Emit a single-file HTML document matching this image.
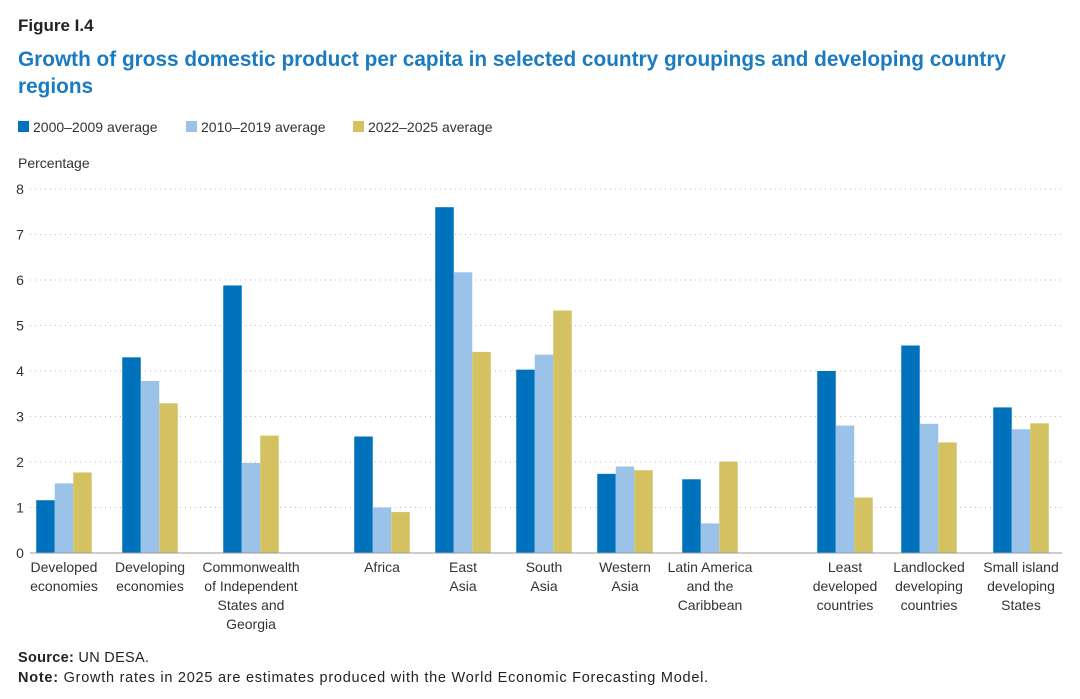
<!DOCTYPE html>
<html><head><meta charset="utf-8"><style>
body{margin:0;background:#fff;font-family:"Liberation Sans",sans-serif;}
#wrap{position:relative;width:1080px;height:699px;overflow:hidden;}
.t{position:absolute;white-space:nowrap;}
</style></head><body>
<div id="wrap">
<div class="t" style="left:18px;top:16px;font-size:17px;font-weight:bold;color:#222;">Figure I.4</div>
<div class="t" style="left:18px;top:46px;font-size:20.8px;font-weight:bold;color:#1a7bc1;line-height:27px;white-space:normal;width:1025px;">Growth of gross domestic product per capita in selected country groupings and developing country regions</div>
<svg id="chart" width="1080" height="699" style="position:absolute;left:0;top:0;"></svg>
<div class="t" style="left:18px;top:650px;font-size:14.5px;letter-spacing:0.3px;color:#222;"><b>Source:</b> UN DESA.</div>
<div class="t" style="left:18px;top:670px;font-size:14.5px;letter-spacing:0.75px;color:#222;"><b>Note:</b> Growth rates in 2025 are estimates produced with the World Economic Forecasting Model.</div>
</div>
<script>
const categories=["Developed\neconomies","Developing\neconomies","Commonwealth\nof Independent\nStates and\nGeorgia","Africa","East\nAsia","South\nAsia","Western\nAsia","Latin America\nand the\nCaribbean","Least\ndeveloped\ncountries","Landlocked\ndeveloping\ncountries","Small island\ndeveloping\nStates"];
const s2000=[1.16,4.3,5.88,2.56,7.6,4.03,1.74,1.62,4.0,4.56,3.2];
const s2010=[1.53,3.78,1.98,1.0,6.17,4.36,1.9,0.65,2.8,2.84,2.72];
const s2022=[1.77,3.29,2.58,0.9,4.42,5.33,1.82,2.01,1.22,2.43,2.85];
const seriesNames=["2000–2009 average","2010–2019 average","2022–2025 average"];
const yTicks=[0,1,2,3,4,5,6,7,8];
const colors=["#0072bc","#9bc2e8","#d4c262"];
const groupCenters=[64,150,251,382,463,544,625,710,845,929,1021];
const NS="http://www.w3.org/2000/svg";
const svg=document.getElementById('chart');
const y0=553,y8=189;
const yS=v=>y0-(y0-y8)*v/8;
function mk(tag,at){const e=document.createElementNS(NS,tag);for(const k in at)e.setAttribute(k,at[k]);svg.appendChild(e);return e;}
yTicks.forEach(t=>{
  if(t>0){const g=mk('line',{x1:30,x2:1062,y1:yS(t),y2:yS(t),stroke:'#bbb','stroke-width':1,'stroke-dasharray':'1,4'});
  
  }
  const l=mk('text',{x:20,y:yS(t)+5,'font-size':14,fill:'#333','text-anchor':'middle','font-family':'Liberation Sans'});l.textContent=t;
  
  
});
const yt=mk('text',{x:18,y:168,'font-size':14,fill:'#333','font-family':'Liberation Sans'});yt.textContent='Percentage';


const bw=18.5;
const all=[s2000,s2010,s2022];
categories.forEach((c,i)=>{
  all.forEach((s,k)=>{
    const x=groupCenters[i]-1.5*bw+k*bw;
    const r=mk('rect',{x:x,y:yS(s[i]),width:bw,height:y0-yS(s[i]),fill:colors[k]});
    
    
  });
  c.split('\n').forEach((ln,j)=>{
    const t=mk('text',{x:groupCenters[i],y:572+j*19,'font-size':14,fill:'#333','text-anchor':'middle','font-family':'Liberation Sans'});t.textContent=ln;
    
    
  });
});
const ax=mk('line',{x1:30,x2:1062,y1:y0,y2:y0,stroke:'#999','stroke-width':1});


const lx=[18,186,353];
seriesNames.forEach((n,k)=>{
  const r=mk('rect',{x:lx[k],y:121,width:11,height:11,fill:colors[k]});
  
  
  const t=mk('text',{x:lx[k]+15,y:132,'font-size':14,fill:'#333','font-family':'Liberation Sans'});t.textContent=n;
  
  
});
</script>
</body></html>
